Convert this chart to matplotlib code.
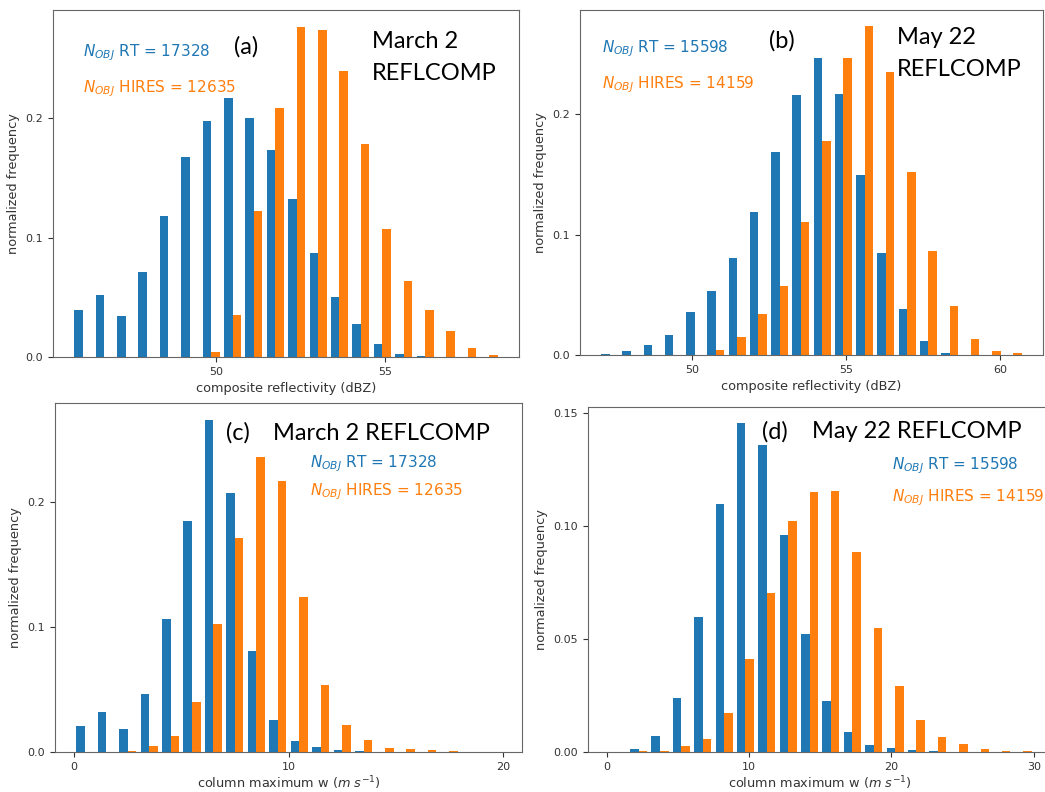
import numpy as np
import matplotlib.pyplot as plt

# normalized frequency per bin (20 bins per panel)
# (a) March 2, composite reflectivity
a_range = (45.73, 58.39)
a_rt = [0.0391, 0.0517, 0.0341, 0.0709, 0.1179, 0.1673, 0.1983, 0.2168, 0.2000, 0.1732,
        0.1321, 0.0869, 0.0500, 0.0274, 0.0106, 0.0022, 0.0006, 0.0, 0.0, 0.0]
a_hires = [0.0, 0.0, 0.0, 0.0, 0.0, 0.0003, 0.0039, 0.0349, 0.1221, 0.2092,
           0.2771, 0.2746, 0.2394, 0.1782, 0.1070, 0.0634, 0.0391, 0.0215, 0.0073, 0.0014]

# (b) May 22, composite reflectivity
b_range = (46.97, 60.78)
b_rt = [0.0005, 0.0030, 0.0080, 0.0163, 0.0354, 0.0528, 0.0802, 0.1184, 0.1682, 0.2155,
        0.2462, 0.2163, 0.1491, 0.0844, 0.0379, 0.0113, 0.0014, 0.0, 0.0, 0.0]
b_hires = [0.0, 0.0, 0.0, 0.0, 0.0, 0.0039, 0.0147, 0.0337, 0.0570, 0.1101,
           0.1773, 0.2462, 0.2728, 0.2346, 0.1516, 0.0860, 0.0404, 0.0130, 0.0030, 0.0014]

# (c) March 2, column maximum w
c_range = (0.0, 20.0)
c_rt = [0.0205, 0.0317, 0.0181, 0.0461, 0.1061, 0.1853, 0.2661, 0.2077, 0.0805, 0.0253,
        0.0085, 0.0037, 0.0013, 0.0005, 0.0003, 0.0, 0.0, 0.0, 0.0, 0.0]
c_hires = [0.0, 0.0, 0.0005, 0.0045, 0.0125, 0.0397, 0.1021, 0.1717, 0.2365, 0.2173,
           0.1237, 0.0533, 0.0213, 0.0093, 0.0029, 0.0021, 0.0013, 0.0005, 0.0004, 0.0003]

# (d) May 22, column maximum w
d_range = (0.0, 30.0)
d_rt = [0.0002, 0.0012, 0.0069, 0.0237, 0.0596, 0.1096, 0.1454, 0.1357, 0.0959, 0.0521,
        0.0224, 0.0087, 0.0029, 0.0016, 0.0007, 0.0003, 0.0002, 0.0001, 0.0001, 0.0001]
d_hires = [0.0001, 0.0003, 0.0003, 0.0025, 0.0056, 0.0171, 0.0410, 0.0702, 0.1021, 0.1149,
           0.1153, 0.0883, 0.0547, 0.0291, 0.0140, 0.0065, 0.0034, 0.0012, 0.0004, 0.0003]

W, H = 1045, 792
fig = plt.figure(figsize=(W / 100, H / 100), dpi=100)

label_font = 'Lato'


def px_axes(left, top, right, bottom):
    return fig.add_axes([left / W, 1 - bottom / H, (right - left) / W, (bottom - top) / H])


def ftext(x, y, s, **kw):
    fig.text(x / W, 1 - y / H, s, ha='left', va='center', **kw)


def draw_hist(ax, rng, rt, hires, xlabel, xticks, yticks, yfmt, xpad=4):
    edges = np.linspace(rng[0], rng[1], len(rt) + 1)
    w = edges[1] - edges[0]
    ax.bar(edges[:-1] + 0.1 * w, rt, width=0.4 * w, align='edge', color='C0')
    ax.bar(edges[:-1] + 0.5 * w, hires, width=0.4 * w, align='edge', color='C1')
    ax.set_xticks(xticks)
    ax.set_yticks(yticks)
    ax.set_yticklabels([yfmt.format(v) for v in yticks])
    ax.set_xlabel(xlabel, fontsize=9.3, color='#333333', labelpad=xpad)
    ax.set_ylabel('normalized frequency', fontsize=9.3, color='#333333')
    ax.tick_params(labelsize=8, colors='#333333')
    for s in ax.spines.values():
        s.set_color('#666666')


ax_a = px_axes(53, 10, 519, 357)
draw_hist(ax_a, a_range, a_rt, a_hires, 'composite reflectivity (dBZ)',
          [50, 55], [0, 0.1, 0.2], '{:.1f}')

ax_b = px_axes(580, 10, 1043, 355)
draw_hist(ax_b, b_range, b_rt, b_hires, 'composite reflectivity (dBZ)',
          [50, 55, 60], [0, 0.1, 0.2], '{:.1f}')

ax_c = px_axes(55, 403, 522, 752)
draw_hist(ax_c, c_range, c_rt, c_hires, r'column maximum w ($m\ s^{-1}$)',
          [0, 10, 20], [0, 0.1, 0.2], '{:.1f}', xpad=2)

ax_d = px_axes(587.5, 407, 1053, 752)
draw_hist(ax_d, d_range, d_rt, d_hires, r'column maximum w ($m\ s^{-1}$)',
          [0, 10, 20, 30], [0, 0.05, 0.10, 0.15], '{:.2f}', xpad=2)

# annotations
ntxt = 11
ftext(83, 53, r'$N_{OBJ}$ RT = 17328', color='C0', fontsize=ntxt)
ftext(83, 89, r'$N_{OBJ}$ HIRES = 12635', color='C1', fontsize=ntxt)
ftext(234, 47, '(a)', fontsize=17, family=label_font)
ftext(372, 42, 'March 2', fontsize=17, family=label_font)
ftext(372, 73, 'REFLCOMP', fontsize=17, family=label_font)

ftext(602, 49, r'$N_{OBJ}$ RT = 15598', color='C0', fontsize=ntxt)
ftext(602, 85, r'$N_{OBJ}$ HIRES = 14159', color='C1', fontsize=ntxt)
ftext(769, 41, '(b)', fontsize=17, family=label_font)
ftext(897, 38, 'May 22', fontsize=17, family=label_font)
ftext(897, 70, 'REFLCOMP', fontsize=17, family=label_font)

ftext(226, 433, '(c)', fontsize=17, family=label_font)
ftext(273, 433, 'March 2 REFLCOMP', fontsize=17, family=label_font)
ftext(310, 464, r'$N_{OBJ}$ RT = 17328', color='C0', fontsize=ntxt)
ftext(310, 492, r'$N_{OBJ}$ HIRES = 12635', color='C1', fontsize=ntxt)

ftext(762, 432, '(d)', fontsize=17, family=label_font)
ftext(812, 432, 'May 22 REFLCOMP', fontsize=17, family=label_font)
ftext(892, 466, r'$N_{OBJ}$ RT = 15598', color='C0', fontsize=ntxt)
ftext(892, 498, r'$N_{OBJ}$ HIRES = 14159', color='C1', fontsize=ntxt)

fig.savefig('out.png', dpi=100)
